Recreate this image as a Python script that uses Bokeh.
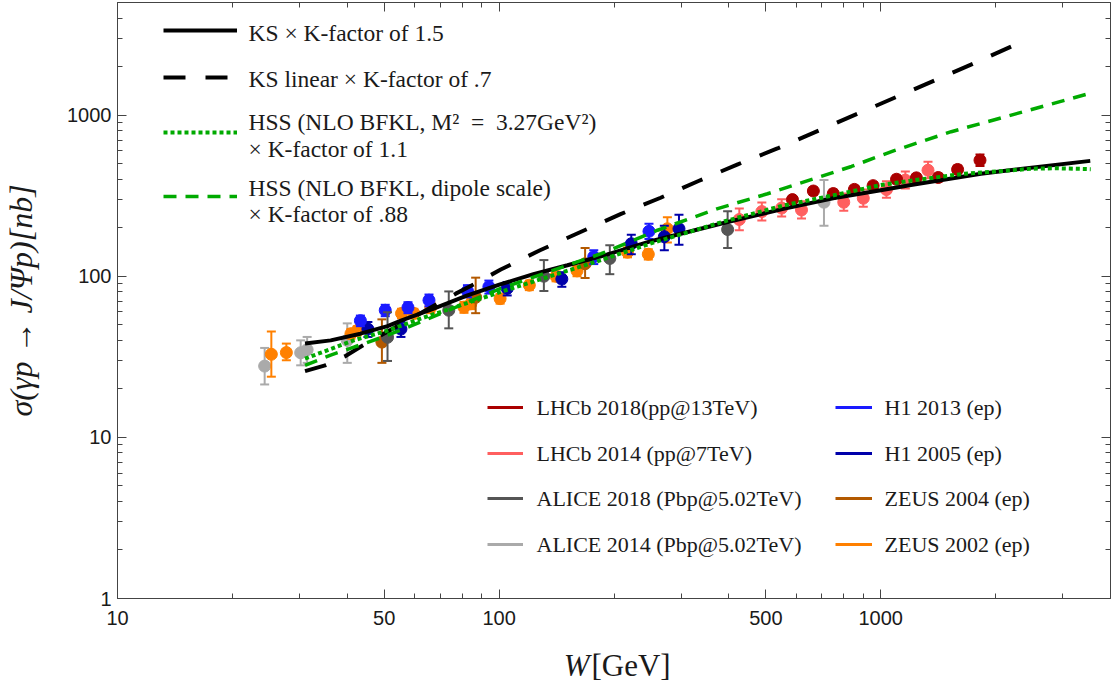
from bokeh.plotting import figure
from bokeh.layouts import column
from bokeh.models import (LogAxis, FixedTicker, PrintfTickFormatter, Legend, LegendItem,
                          Label, ColumnDataSource, Range1d)
from bokeh.embed import file_html
from bokeh.resources import INLINE

# ---------------- data ----------------
# model curves: W [GeV], sigma [nb]
KS_W = [31, 36.2, 43.3, 51, 55.3, 67.4, 82.6, 100.6, 123, 151, 185, 250, 397, 556, 750, 1000, 1200, 1830, 3540]
KS_s = [38.3, 40, 44, 49, 53, 63, 76, 89, 103, 117, 133, 165, 217, 262, 305, 342, 368, 433, 520]

KSlin_W = [31, 35, 39.4, 44, 77, 86.5, 101, 128, 164, 208, 265, 333, 422, 536, 1742, 2208, 2355]
KSlin_s = [25.8, 28, 31.8, 37.3, 78, 90, 110, 145, 189, 243, 307, 390, 495, 621, 2080, 2675, 2840]

HSSdot_W = [31, 41.6, 51, 62.3, 101, 185, 250, 397, 557, 752, 1000, 1200, 1660, 2500, 2900, 3550]
HSSdot_s = [30.8, 40, 46, 54.6, 80, 126, 160, 222, 275, 318, 368, 392, 433, 465, 468, 462]

HSSdash_W = [31, 36.2, 41.6, 51, 62.3, 101, 185, 260, 372, 505, 838, 1080, 1530, 3550]
HSSdash_s = [28, 32.4, 36.3, 43, 52, 84, 138, 193, 262, 325, 480, 600, 789, 1370]

# measurements
LHCb18_W = [587, 666, 751, 853, 955, 1100, 1240, 1415, 1590, 1820]
LHCb18_s = [299, 338, 326, 346, 365, 400, 408, 410, 460, 525]
LHCb18_em = [16, 18, 18, 19, 20, 22, 23, 23, 26, 42]
LHCb18_ep = [16, 18, 18, 19, 20, 22, 23, 23, 26, 45]

LHCb14_W = [426, 488, 550, 620, 800, 900, 1035, 1160, 1330]
LHCb14_s = [225, 252, 265, 258, 288, 305, 345, 395, 455]
LHCb14_em = [32, 30, 30, 30, 33, 35, 38, 45, 50]
LHCb14_ep = [38, 35, 35, 34, 38, 40, 44, 52, 58]

ALICE18_W = [51, 73.8, 131, 195, 397]
ALICE18_s = [41.8, 61.5, 100, 129, 195]
ALICE18_em = [12, 14, 19, 26, 45]
ALICE18_ep = [18, 19, 26, 27, 58]

ALICE14_W = [24.3, 30.2, 31.4, 40, 710]
ALICE14_s = [27.7, 33.5, 35, 40, 288]
ALICE14_em = [6.4, 5.5, 6, 11, 82]
ALICE14_ep = [8.2, 6.5, 7, 11, 107]

H1_13_W = [43.3, 50.3, 57.7, 65.5, 82.6, 94, 177, 247]
H1_13_s = [53, 61.5, 64, 71, 81, 86, 132, 190]
H1_13_em = [4, 5, 5, 6, 7, 8, 13, 20]
H1_13_ep = [4, 5, 5, 6, 7, 8, 13, 22]

H1_05_W = [45.3, 55.3, 105, 146, 222, 271, 296]
H1_05_s = [47, 47, 84, 96, 159, 176, 197]
H1_05_em = [5, 5, 8, 10, 22, 31, 40]
H1_05_ep = [5, 5, 8, 10, 22, 30, 44]

ZEUS04_W = [49.3, 86.8, 168]
ZEUS04_s = [39, 74, 119.5]
ZEUS04_em = [10, 15, 22]
ZEUS04_ep = [15, 24, 30]

ZEUS02_W = [25.3, 27.7, 40.9, 42.5, 55.5, 59.8, 66.2, 80.9, 84.3, 100.6, 120, 141, 160, 217, 246, 276]
ZEUS02_s = [32.8, 33.6, 44, 46, 58.8, 58.8, 64, 64.3, 67.5, 72.6, 88, 100, 108, 141, 137, 197]
ZEUS02_em = [9, 3.5, 3, 3, 4, 4, 5, 5, 5, 5, 6, 7, 8, 10, 10, 35]
ZEUS02_ep = [12.6, 4.6, 3, 3, 4, 4, 5, 5, 5, 5, 6, 7, 8, 10, 10, 35]

# ticks
x_ticks = [10, 50, 100, 500, 1000]
x_minor = [20, 30, 40, 60, 70, 80, 90, 200, 300, 400, 600, 700, 800, 900, 2000, 3000]
y_ticks = [1, 10, 100, 1000]
y_minor = [2, 3, 4, 5, 6, 7, 8, 9, 20, 30, 40, 50, 60, 70, 80, 90,
           200, 300, 400, 500, 600, 700, 800, 900, 2000, 3000, 4000]

model_labels = ["KS \u00d7 K-factor of 1.5",
                "KS linear \u00d7 K-factor of .7",
                "HSS (NLO BFKL, M\u00b2\u2002=\u20023.27GeV\u00b2)", "\u00d7 K-factor of 1.1",
                "HSS (NLO BFKL, dipole scale)", "\u00d7 K-factor of .88"]
data_labels = ["LHCb 2018(pp@13TeV)", "LHCb 2014 (pp@7TeV)", "ALICE 2018 (Pbp@5.02TeV)",
               "ALICE 2014 (Pbp@5.02TeV)", "H1 2013 (ep)", "H1 2005 (ep)",
               "ZEUS 2004 (ep)", "ZEUS 2002 (ep)"]
y_title = "\u03c3(\u03b3p \u2192 J/\u03a8p)[nb]"

# ---------------- styles ----------------
C_LHCb18 = "#aa0000"
C_LHCb14 = "#ff5f5f"
C_ALICE18 = "#555555"
C_ALICE14 = "#aaaaaa"
C_H1_13 = "#1a1aff"
C_H1_05 = "#0000aa"
C_ZEUS04 = "#b35900"
C_ZEUS02 = "#ff8000"
GREEN = "#00aa00"
FRAME = "#444444"
TXT = "#1a1a1a"
SERIF = "Liberation Serif"

# screen anchors of the plotting frame (left edge / bottom edge)
FX, FB = 117, 598
MAIN_H = 645
TOTAL_H = 687

p = figure(width=1111, height=MAIN_H, x_axis_type="log", y_axis_type="log",
           x_range=Range1d(10, 4000), y_range=Range1d(1, 5000),
           output_backend="svg", toolbar_location=None, title=None,
           min_border_left=FX, min_border_right=1, min_border_top=2,
           min_border_bottom=MAIN_H - FB)
p.xgrid.visible = False
p.ygrid.visible = False
p.background_fill_color = "white"
p.border_fill_color = "white"
p.outline_line_color = FRAME


def style_axis(ax, ticks, minor, labels=True):
    ax.ticker = FixedTicker(ticks=ticks, minor_ticks=minor)
    ax.major_tick_in = 9
    ax.major_tick_out = 0
    ax.minor_tick_in = 5
    ax.minor_tick_out = 0
    ax.axis_line_color = FRAME
    ax.major_tick_line_color = FRAME
    ax.minor_tick_line_color = FRAME
    ax.formatter = PrintfTickFormatter(format="%d")
    if labels:
        ax.major_label_text_font = "Liberation Sans"
        ax.major_label_text_font_size = "20px"
        ax.major_label_text_color = TXT
    else:
        ax.major_label_text_font_size = "1px"
        ax.major_label_text_color = None
        ax.major_label_standoff = 0


style_axis(p.xaxis[0], x_ticks, x_minor)
p.xaxis[0].major_label_standoff = 12
style_axis(p.yaxis[0], y_ticks, y_minor)
p.yaxis[0].major_label_standoff = 6
p.yaxis[0].axis_label = y_title
p.yaxis[0].axis_label_text_font = SERIF
p.yaxis[0].axis_label_text_font_style = "italic"
p.yaxis[0].axis_label_text_font_size = "32px"
p.yaxis[0].axis_label_text_color = TXT
p.yaxis[0].axis_label_standoff = 25

top = LogAxis()
style_axis(top, x_ticks, x_minor, labels=False)
p.add_layout(top, "above")
right = LogAxis()
style_axis(right, y_ticks, y_minor, labels=False)
p.add_layout(right, "right")

# ---------------- measurements ----------------
series = [
    (ALICE14_W, ALICE14_s, ALICE14_em, ALICE14_ep, C_ALICE14),
    (ZEUS02_W, ZEUS02_s, ZEUS02_em, ZEUS02_ep, C_ZEUS02),
    (ZEUS04_W, ZEUS04_s, ZEUS04_em, ZEUS04_ep, C_ZEUS04),
    (H1_05_W, H1_05_s, H1_05_em, H1_05_ep, C_H1_05),
    (H1_13_W, H1_13_s, H1_13_em, H1_13_ep, C_H1_13),
    (ALICE18_W, ALICE18_s, ALICE18_em, ALICE18_ep, C_ALICE18),
    (LHCb14_W, LHCb14_s, LHCb14_em, LHCb14_ep, C_LHCb14),
    (LHCb18_W, LHCb18_s, LHCb18_em, LHCb18_ep, C_LHCb18),
]
legend_renderers = {}
for W, s, em, ep, c in series:
    src = ColumnDataSource(dict(x=W, y=s,
                                lo=[a - b for a, b in zip(s, em)],
                                hi=[a + b for a, b in zip(s, ep)]))
    p.segment(x0="x", y0="lo", x1="x", y1="hi", source=src, line_color=c, line_width=2)
    p.scatter(x="x", y="lo", source=src, marker="dash", size=9, line_color=c, line_width=2)
    p.scatter(x="x", y="hi", source=src, marker="dash", size=9, line_color=c, line_width=2)
    p.scatter(x="x", y="y", source=src, marker="circle", size=12, fill_color=c, line_color=c)
    # one-point line: draws nothing on the plot, only provides the legend sample line
    legend_renderers[c] = p.line(x=W[:1], y=s[:1], line_color=c, line_width=3)

# ---------------- model curves ----------------
r_kslin = p.line(KSlin_W, KSlin_s, line_color="black", line_width=4, line_dash="22 20")
r_ks = p.line(KS_W, KS_s, line_color="black", line_width=4)
r_dash = p.line(HSSdash_W, HSSdash_s, line_color=GREEN, line_width=3.5, line_dash="13 9")
r_dot = p.line(HSSdot_W, HSSdot_s, line_color=GREEN, line_width=4, line_dash="4 3")


# ---------------- legends (glyph samples only; texts are separate labels) ----------------
def glyph_legend(r, x_left, x_right, yc):
    lg = Legend(items=[LegendItem(label="-", renderers=[r])],
                location=(x_left - FX, FB - yc - 10),
                glyph_width=x_right - x_left, glyph_height=20, label_height=20,
                label_standoff=0, padding=0, margin=0, spacing=0,
                border_line_color=None, background_fill_alpha=0,
                label_text_font_size="8px", label_text_color=None)
    p.add_layout(lg)


def text(fig, t, x, y, size="22px", font=SERIF, style="normal", align="left"):
    fig.add_layout(Label(x=x, y=y, x_units="screen", y_units="screen", text=t,
                         text_font=font, text_font_size=size, text_font_style=style,
                         text_align=align, text_baseline="middle", text_color=TXT))


glyph_legend(r_ks, 163, 237, 30)
glyph_legend(r_kslin, 163, 237, 77)
glyph_legend(r_dot, 163, 237, 132)
glyph_legend(r_dash, 163, 237, 196)
for t, yc in zip(model_labels, [32, 78, 121, 148, 187, 213]):
    text(p, t, 248 - FX, FB - yc, size="23.5px")

data_colors = [C_LHCb18, C_LHCb14, C_ALICE18, C_ALICE14, C_H1_13, C_H1_05, C_ZEUS04, C_ZEUS02]
rows = [407, 453, 498, 544]
for i, (lab, c) in enumerate(zip(data_labels, data_colors)):
    col, row = divmod(i, 4)
    gx0, gx1, tx = (487, 523, 536) if col == 0 else (835, 872, 884)
    glyph_legend(legend_renderers[c], gx0, gx1, rows[row])
    text(p, lab, tx - FX, FB - rows[row])

# ---------------- x-axis title strip (mixed italic / upright text) ----------------
p2 = figure(width=1111, height=TOTAL_H - MAIN_H, x_range=Range1d(0, 1), y_range=Range1d(0, 1),
            output_backend="svg", toolbar_location=None, title=None,
            x_axis_location=None, y_axis_location=None,
            min_border_left=FX, min_border_right=1, min_border_top=0, min_border_bottom=0)
p2.xgrid.visible = False
p2.ygrid.visible = False
p2.outline_line_color = None
p2.background_fill_color = "white"
p2.border_fill_color = "white"
text(p2, "W", 589 - FX, TOTAL_H - 665, size="31px", style="italic", align="right")
text(p2, "[GeV]", 591 - FX, TOTAL_H - 665, size="31px")

layout = column(p, p2, spacing=0)
open("out.html", "w").write(file_html(layout, INLINE))
